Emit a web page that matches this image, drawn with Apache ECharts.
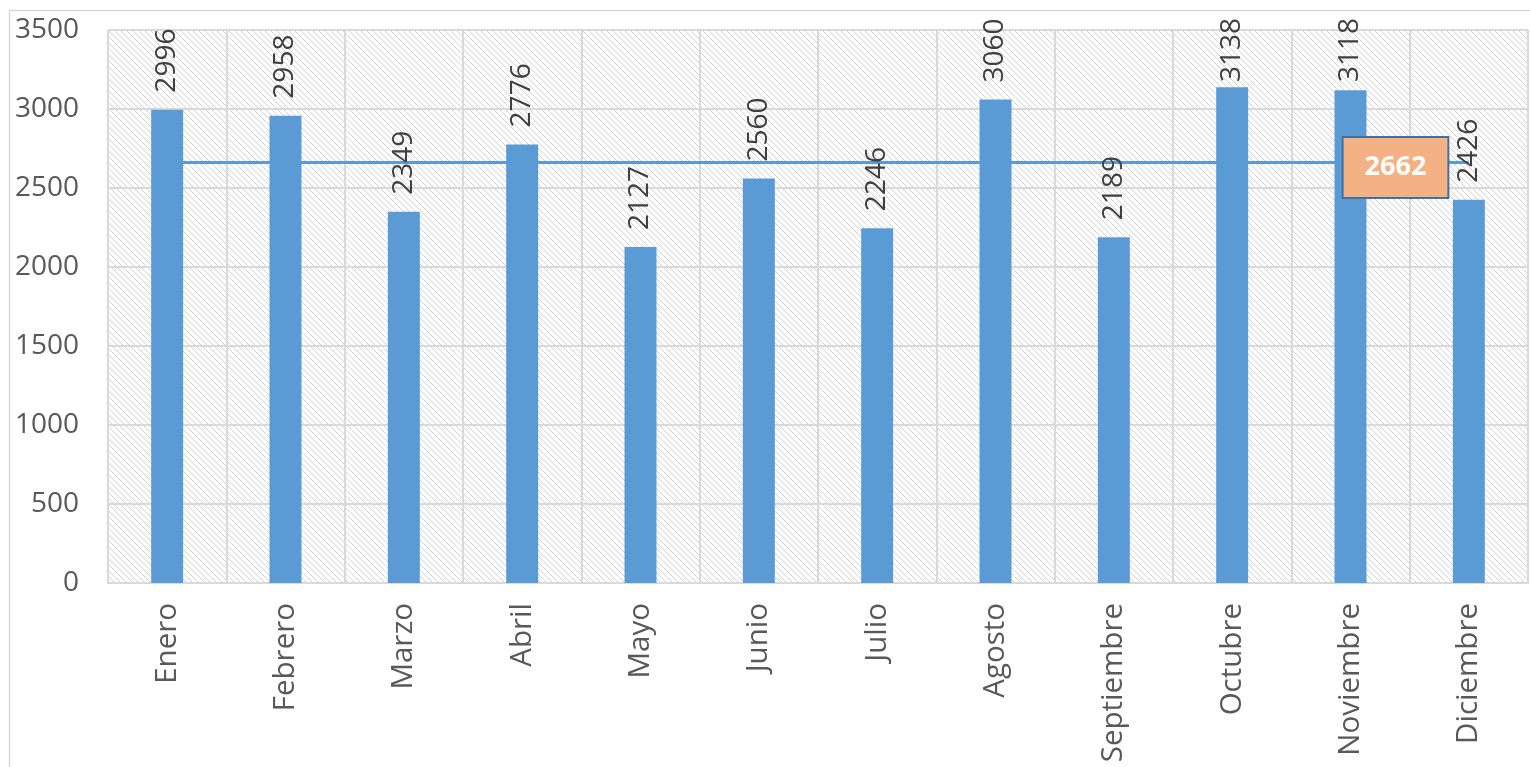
<!DOCTYPE html>
<html>
<head>
<meta charset="utf-8">
<script src="https://cdn.jsdelivr.net/npm/echarts@6/dist/echarts.min.js"></script>
<style>
html,body{margin:0;padding:0;background:#fff;}
#main{width:1530px;height:767px;}
</style>
</head>
<body>
<div id="main"></div>
<script>
var categories = ['Enero','Febrero','Marzo','Abril','Mayo','Junio','Julio','Agosto','Septiembre','Octubre','Noviembre','Diciembre'];
var values = [2996, 2958, 2349, 2776, 2127, 2560, 2246, 3060, 2189, 3138, 3118, 2426];
var averageValue = 2662;
var averageLabelIndex = 10;
var yTicks = {min: 0, max: 3500, interval: 500};

// layout constants
var GRID_TOP = 30, GRID_BOTTOM = 184, H = 767;
var PLOT_H = H - GRID_TOP - GRID_BOTTOM;
var CHART_AREA_TOP = 20, LABEL_LEN = 62, LABEL_DIST = 17;

// hatch pattern
var pc = document.createElement('canvas');
pc.width = 6; pc.height = 6;
var ctx = pc.getContext('2d');
ctx.fillStyle = '#ffffff';
ctx.fillRect(0,0,6,6);
ctx.fillStyle = '#d4d4d4';
for (var i = 0; i < 6; i++) { ctx.fillRect(i, i, 1, 1); }

var avgData = categories.map(function(){ return averageValue; });

// Excel-like: keep rotated labels within the chart area
var barData = values.map(function(v){
  var barTop = GRID_TOP + (yTicks.max - v) / (yTicks.max - yTicks.min) * PLOT_H;
  var room = barTop - CHART_AREA_TOP - LABEL_LEN;
  var d = Math.max(3, Math.min(LABEL_DIST, room));
  return {value: v, label: {distance: d}};
});

var chart = echarts.init(document.getElementById('main'));
var FONT = 'Open Sans';
chart.setOption({
  animation: false,
  backgroundColor: '#ffffff',
  graphic: [{
    type: 'rect', shape: {x: 9.5, y: 10.5, width: 1540, height: 780},
    style: {fill: 'none', stroke: '#d9d9d9', lineWidth: 1.5}, z: -10
  }],
  grid: {
    left: 108, top: GRID_TOP, right: 2, bottom: GRID_BOTTOM,
    show: true,
    backgroundColor: {image: pc, repeat: 'repeat'},
    borderWidth: 0
  },
  xAxis: {
    type: 'category',
    data: categories,
    axisLine: {show: true, lineStyle: {color: '#d9d9d9', width: 2}},
    axisTick: {show: false},
    splitLine: {show: true, lineStyle: {color: '#d9d9d9', width: 2}},
    axisLabel: {rotate: 90, margin: 20, fontFamily: FONT, fontSize: 29.5, color: '#595959', interval: 0}
  },
  yAxis: {
    type: 'value',
    min: yTicks.min, max: yTicks.max, interval: yTicks.interval,
    axisLine: {show: false},
    axisTick: {show: false},
    splitLine: {show: true, lineStyle: {color: '#d9d9d9', width: 2}},
    axisLabel: {margin: 29, fontFamily: FONT, fontSize: 28, color: '#595959',
      formatter: function(v){ return String(v); }}
  },
  series: [{
    type: 'line',
    data: avgData,
    z: 1,
    symbol: 'none',
    showSymbol: false,
    lineStyle: {color: '#5b9bd5', width: 3},
    label: {show: false},
    silent: true
  }, {
    type: 'bar',
    data: barData,
    z: 2,
    barWidth: 32,
    itemStyle: {color: '#5b9bd5'},
    label: {
      show: true, position: 'top', rotate: 90, align: 'left', verticalAlign: 'middle',
      distance: LABEL_DIST, fontFamily: FONT, fontSize: 28, color: '#404040'
    }
  }, {
    type: 'scatter',
    data: avgData.map(function(v, i){ return i === averageLabelIndex ? v : '-'; }),
    z: 5,
    symbolSize: 1,
    itemStyle: {opacity: 0},
    silent: true,
    label: {
      show: true, position: 'inside', offset: [45, 5], opacity: 1,
      formatter: function(p){ return String(p.value); },
      fontFamily: FONT, fontSize: 27, fontWeight: 'bold', color: '#ffffff',
      backgroundColor: '#f4b183', borderColor: '#41719c', borderWidth: 2,
      padding: [14, 21], lineHeight: 31
    }
  }]
});
</script>
</body>
</html>
